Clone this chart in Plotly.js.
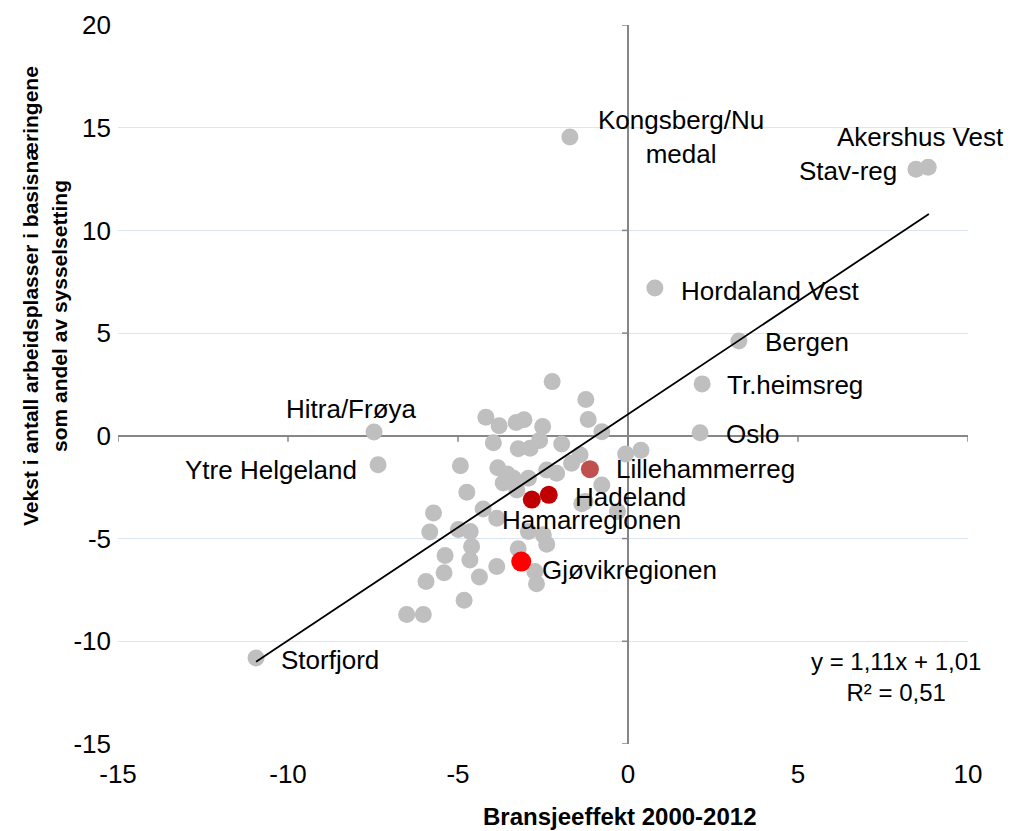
<!DOCTYPE html>
<html>
<head>
<meta charset="utf-8">
<script src="https://cdn.plot.ly/plotly-3.0.1.min.js"></script>
<style>html,body{margin:0;padding:0;background:#fff;}#chart{width:1010px;height:831px;}</style>
</head>
<body>
<div id="chart"></div>
<script>
// ---- data ----
const xTicks = [-15, -10, -5, 0, 5, 10];
const xTickLabels = ['-15', '-10', '-5', '0', '5', '10'];
const yTicks = [-15, -10, -5, 0, 5, 10, 15, 20];
const yTickLabels = ['-15', '-10', '-5', '0', '5', '10', '15', '20'];

const otherX = [-2.23, -1.24, -1.17, -0.77, -4.18, -3.79, -3.29, -3.06, -2.51, -3.96, -3.23, -2.88, -2.6, -1.95,
  -0.07, 0.38, -1.41, -1.66, -4.93, -3.83, -3.55, -3.67, -2.93, -3.27, -2.39, -2.1, -0.77, -4.74, -4.26, -5.72,
  -3.86, -1.36, -0.31, -5.83, -4.99, -4.64, -2.93, -2.49, -2.39, -3.23, -4.6, -5.38, -4.65, -3.86, -5.41, -4.37,
  -5.94, -2.74, -2.69, -4.82, -6.51, -6.02, -3.37, -1.26];
const otherY = [2.64, 1.77, 0.8, 0.2, 0.91, 0.49, 0.65, 0.78, 0.45, -0.33, -0.63, -0.6, -0.22, -0.4,
  -0.88, -0.7, -0.92, -1.33, -1.46, -1.55, -1.86, -2.3, -2.06, -2.63, -1.66, -1.82, -2.39, -2.75, -3.56, -3.76,
  -4.01, -3.3, -3.68, -4.68, -4.56, -4.66, -4.66, -4.82, -5.28, -5.5, -5.39, -5.82, -6.04, -6.36, -6.66, -6.87,
  -7.09, -6.6, -7.2, -8.0, -8.7, -8.7, -2.06, -3.2];

const namedRegions = ['Kongsberg/Nu<br>medal', 'Akershus Vest', 'Stav-reg', 'Hordaland Vest', 'Bergen',
  'Tr.heimsreg', 'Oslo', 'Hitra/Frøya', 'Ytre Helgeland', 'Storfjord'];
const namedX = [-1.71, 8.83, 8.47, 0.79, 3.26, 2.18, 2.12, -7.47, -7.35, -10.94];
const namedY = [14.55, 13.08, 12.98, 7.2, 4.62, 2.53, 0.15, 0.19, -1.41, -10.81];

const highlightNames = ['Lillehammerreg', 'Hadeland', 'Hamarregionen', 'Gjøvikregionen'];
const highlightX = [-1.12, -2.33, -2.83, -3.14];
const highlightY = [-1.62, -2.87, -3.1, -6.12];

const trendX = [-10.94, 8.85];
const trendY = [-11.0, 10.8];
const trendText = 'y = 1,11x + 1,01<br>R² = 0,51';

const xTitle = 'Bransjeeffekt 2000-2012';
const yTitleLines = ['Vekst i antall arbeidsplasser i basisnæringene', 'som andel av sysselsetting'];

// ---- styles ----
const FONT = 'Liberation Sans, Arial, sans-serif';
const GRAY = '#BFBFBF';
const highlightStyle = {
  'Lillehammerreg': {color: '#C0504D', size: 18},
  'Hadeland': {color: '#C00000', size: 18},
  'Hamarregionen': {color: '#C00000', size: 18},
  'Gjøvikregionen': {color: '#FF0000', size: 20}
};
// label placement offsets (pixels)
const labelPlace = {
  'Kongsberg/Nu<br>medal': {xa: 'center', dx: 111, dy: 0},
  'Akershus Vest': {xa: 'right', dx: 78, dy: 30},
  'Stav-reg': {xa: 'right', dx: -17, dy: -2},
  'Hordaland Vest': {xa: 'left', dx: 24, dy: -3},
  'Bergen': {xa: 'left', dx: 24, dy: -1},
  'Tr.heimsreg': {xa: 'left', dx: 23, dy: -1},
  'Oslo': {xa: 'left', dx: 24, dy: -1},
  'Hitra/Frøya': {xa: 'right', dx: 45, dy: 23},
  'Ytre Helgeland': {xa: 'right', dx: -19, dy: -5},
  'Storfjord': {xa: 'left', dx: 23, dy: -2},
  'Lillehammerreg': {xa: 'left', dx: 24, dy: 0},
  'Hadeland': {xa: 'left', dx: 24, dy: -2},
  'Hamarregionen': {xa: 'left', dx: -32, dy: -20},
  'Gjøvikregionen': {xa: 'left', dx: 19, dy: -8}
};

const traces = [];
traces.push({
  x: otherX.concat(namedX), y: otherY.concat(namedY), type: 'scatter', mode: 'markers',
  marker: {color: GRAY, size: 17, line: {width: 0}}, hoverinfo: 'skip', showlegend: false
});
traces.push({
  x: trendX, y: trendY, type: 'scatter', mode: 'lines',
  line: {color: '#000000', width: 1.8}, hoverinfo: 'skip', showlegend: false
});
highlightNames.forEach((n, i) => {
  traces.push({
    x: [highlightX[i]], y: [highlightY[i]], type: 'scatter', mode: 'markers', name: n,
    marker: {color: highlightStyle[n].color, size: highlightStyle[n].size, line: {width: 0}},
    showlegend: false
  });
});

const annotations = [];
function addLabel(n, x, y) {
  const p = labelPlace[n];
  annotations.push({
    x: x, y: y, xref: 'x', yref: 'y', text: n, showarrow: false,
    xanchor: p.xa, yanchor: 'middle', xshift: p.dx, yshift: p.dy, align: 'center',
    font: {family: FONT, size: 26, color: '#000'}
  });
}
namedRegions.forEach((n, i) => addLabel(n, namedX[i], namedY[i]));
highlightNames.forEach((n, i) => addLabel(n, highlightX[i], highlightY[i]));

annotations.push({
  xref: 'paper', yref: 'paper', x: 0.915, y: 0.0925, text: trendText, showarrow: false,
  xanchor: 'center', yanchor: 'middle', align: 'center',
  font: {family: FONT, size: 24, color: '#000'}
});
annotations.push({
  xref: 'paper', yref: 'paper', x: 0.59, y: -0.1015, text: '<b>' + xTitle + '</b>', showarrow: false,
  xanchor: 'center', yanchor: 'middle', font: {family: FONT, size: 24, color: '#000'}
});
const yTitleX = [30, 60];
const yTitleY = [296, 316];
yTitleLines.forEach((t, i) => {
  annotations.push({
    xref: 'paper', yref: 'paper', x: (yTitleX[i] - 118) / 850, y: (744 - yTitleY[i]) / 719,
    text: '<b>' + t + '</b>', showarrow: false, textangle: -90,
    xanchor: 'center', yanchor: 'middle',
    font: {family: FONT, size: 21, color: '#000'}
  });
});

// tick marks on the zero lines
const shapes = [];
xTicks.forEach(v => {
  if (v === 0) return;
  shapes.push({type: 'line', xref: 'x', yref: 'y', x0: v, x1: v, ysizemode: 'pixel', yanchor: 0,
    y0: -6, y1: 0, line: {color: '#868686', width: 1.5}, layer: 'above'});
});
yTicks.forEach(v => {
  if (v === 0) return;
  shapes.push({type: 'line', xref: 'x', yref: 'y', y0: v, y1: v, xsizemode: 'pixel', xanchor: 0,
    x0: -6, x1: 0, line: {color: '#868686', width: 1.5}, layer: 'above'});
});

const layout = {
  width: 1010, height: 831,
  margin: {l: 118, r: 42, t: 25, b: 87, pad: 0},
  paper_bgcolor: '#fff', plot_bgcolor: '#fff',
  font: {family: FONT, size: 26, color: '#000'},
  showlegend: false,
  xaxis: {
    range: [-15, 10], tickmode: 'array', tickvals: xTicks, ticktext: xTickLabels,
    showgrid: false, zeroline: true, zerolinecolor: '#868686', zerolinewidth: 1.5,
    showline: false, ticks: '', ticklabelstandoff: 12,
    tickfont: {family: FONT, size: 26, color: '#000'}, fixedrange: true
  },
  yaxis: {
    range: [-15, 20], tickmode: 'array', tickvals: yTicks, ticktext: yTickLabels,
    showgrid: true, gridcolor: '#DCE6F2', gridwidth: 1,
    zeroline: true, zerolinecolor: '#868686', zerolinewidth: 1.5,
    showline: false, ticks: '', ticklabelstandoff: 6,
    tickfont: {family: FONT, size: 26, color: '#000'}, fixedrange: true
  },
  shapes: shapes,
  annotations: annotations
};

Plotly.newPlot('chart', traces, layout, {displayModeBar: false, staticPlot: true});
</script>
</body>
</html>
